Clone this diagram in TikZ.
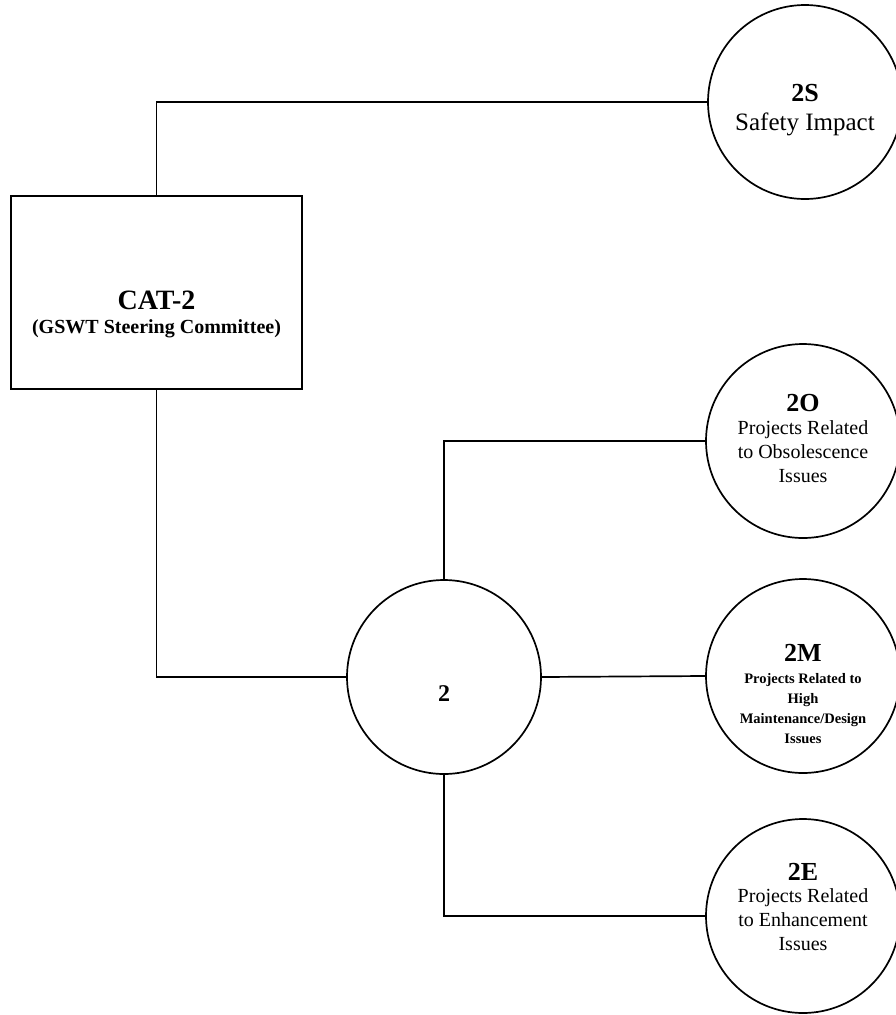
\documentclass[tikz,border=0pt]{standalone}
\usepackage{fontspec}
\setmainfont{Liberation Serif}
\newcommand\blocktext[3]{\raisebox{#1}[0pt][0pt]{\parbox{#2}{\centering #3\par}}}
\newcommand\hd[1]{{\fontsize{26}{30}\selectfont\bfseries #1}}
\begin{document}
\begin{tikzpicture}[x=1pt,y=-1pt,
  bubble/.style={draw, circle, minimum size=194pt, inner sep=0pt, line width=1.7pt},
  box/.style={draw, rectangle, minimum width=291pt, minimum height=193pt, inner sep=0pt, line width=1.7pt},
  link/.style={draw, line width=1.7pt},
  body/.style={font=\fontsize{20}{24}\selectfont},
  tiny/.style={font=\fontsize{14.5}{20}\selectfont\bfseries}]
\useasboundingbox (0,0) rectangle (896,1015);
\node[box, body] (cat) at (156.5,292.5) {\blocktext{-27.5pt}{285pt}{{\fontsize{28}{30}\selectfont\bfseries CAT-2}\\[0pt]{\fontsize{20}{24}\selectfont\bfseries (GSWT Steering Committee)}}};
\node[bubble, body] (s) at (805,102) {\blocktext{-13pt}{190pt}{\hd{2S}\\[5pt]{\fontsize{25}{30}\selectfont Safety Impact}}};
\node[bubble] (two) at (444,677) {\raisebox{-24pt}[0pt][0pt]{\fontsize{24}{28}\selectfont\bfseries 2}};
\node[bubble, body] (o) at (803,441) {\blocktext{-3pt}{190pt}{\hd{2O}\\[-1pt]Projects Related\\to Obsolescence\\Issues}};
\node[bubble, tiny] (m) at (803,676) {\blocktext{-21.5pt}{190pt}{\hd{2M}\\[2pt]Projects Related to\\High\\Maintenance/Design\\Issues}};
\node[bubble, body] (e) at (803,916) {\blocktext{4pt}{190pt}{\hd{2E}\\[-2pt]Projects Related\\to Enhancement\\Issues}};
\draw[link] (cat.north) |- (s.west);
\draw[link] (cat.south) |- (two.west);
\draw[link] (two.north) |- (o.west);
\draw[link] (two.east) -- (m.west);
\draw[link] (two.south) |- (e.west);
\end{tikzpicture}
\end{document}
